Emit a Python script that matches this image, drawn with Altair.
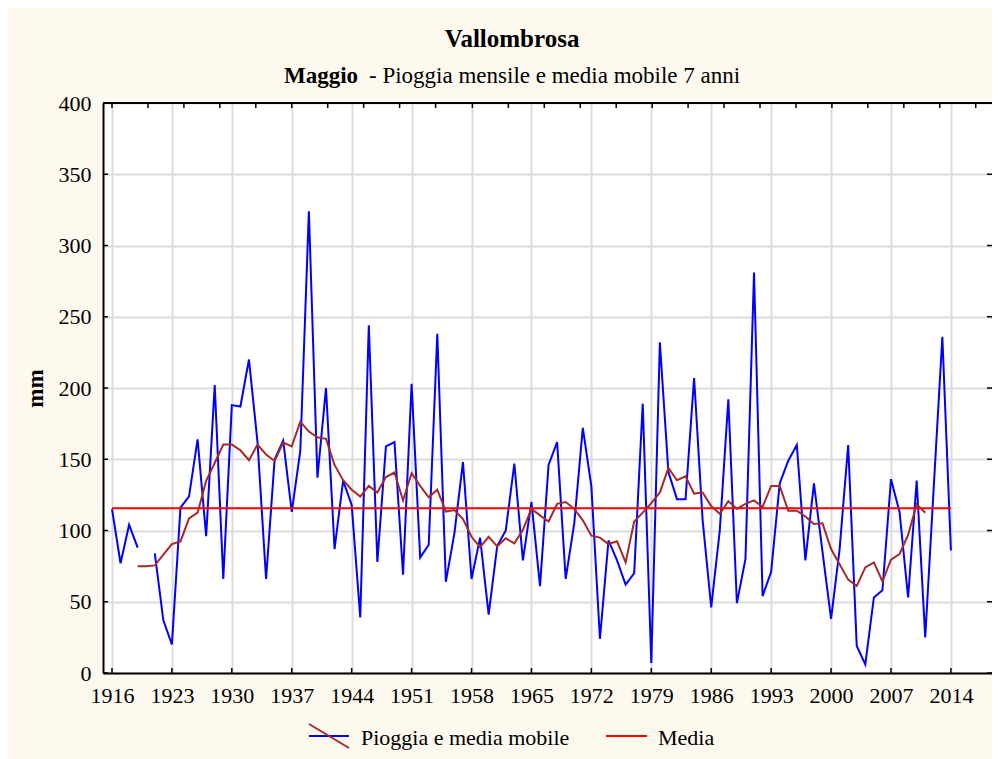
import altair as alt
import pandas as pd

# ---------------- data ----------------
YEARS = list(range(1916, 2015))
RAIN = [115, 77, 104, 88, None, 84, 37, 20, 116, 124,
        164, 96, 202, 66, 188, 187, 220, 162, 66, 150,
        163, 113, 156, 324, 137, 200, 87, 135, 118, 39,
        244, 78, 159, 162, 69, 203, 81, 90, 238, 64,
        98, 148, 66, 95, 41, 89, 100, 147, 79, 120,
        61, 146, 162, 66, 105, 172, 131, 24, 93, 79,
        62, 70, 189, 7, 232, 141, 122, 122, 207, 107,
        46, 100, 192, 49, 80, 281, 54, 71, 133, 149,
        160, 79, 133, 85, 38, 87, 160, 19, 6, 53,
        58, 136, 113, 53, 135, 25, 131, 236, 86]

MA_YEARS = list(range(1919, 2012))
MA = [75, 75, 75.5, 83, 90.5, 92.4, 108.5, 112.5, 134.8, 147.4,
      160.3, 160.3, 156.3, 149.3, 160.3, 153.3, 148.8, 161.7, 159, 176.4,
      169.4, 165.4, 164.3, 146, 135.3, 128.6, 123.8, 131.3, 126.7, 137.5,
      140.7, 121.1, 140.2, 131.3, 123.3, 128.6, 113.3, 114.4, 108, 95.6,
      88.3, 95.6, 88.9, 94.5, 91, 100.4, 115.2, 110.6, 106.3, 118.7,
      120, 115.2, 107.1, 96.4, 95, 90.5, 92.4, 77.6, 106.3, 112.5,
      119.2, 126.7, 143.9, 135.3, 138, 125.9, 126.7, 117.1, 111.7, 120.6,
      115.2, 118.7, 121.1, 116.5, 131.3, 131.3, 113.9, 113.9, 109.8, 104.5,
      105, 87, 76.3, 65.5, 61, 74.1, 77.6, 64.2, 79.5, 83.5,
      96.9, 118.4, 112.5]

MEAN = 115.7
MEAN_FROM = 1916
MEAN_TO = 2014

X_TICKS = [1916, 1923, 1930, 1937, 1944, 1951, 1958, 1965, 1972, 1979,
           1986, 1993, 2000, 2007, 2014]
Y_TICKS = [0, 50, 100, 150, 200, 250, 300, 350, 400]
TOP_TICKS = [1916, 1920.2, 1924.4, 1928.6, 1932.8, 1937.0, 1941.2, 1945.4,
             1949.6, 1953.8, 1958.1, 1962.3, 1966.5, 1970.7, 1974.9, 1979.1,
             1983.3, 1987.5, 1991.7, 1995.9, 2000.1, 2004.3, 2008.5, 2012.7,
             2016.9]

TITLE = "Vallombrosa"
SUB_BOLD = "Maggio"
SUB_REST = "- Pioggia mensile e media mobile 7 anni"
LEG1 = "Pioggia e media mobile"
LEG2 = "Media"

# ---------------- styling ----------------
FONT = "Liberation Serif"
W, H = 889, 570
BLUE = "#0000FF"
BROWN = "#A52A2A"
RED = "#FF0000"
GRID = "#DCDCDC"
BG = "#FEF9EE"

rain_df = pd.DataFrame({"year": YEARS, "mm": RAIN}).dropna()
rain_df["seg"] = (rain_df["year"] > 1920).astype(int)
ma_df = pd.DataFrame({"year": MA_YEARS, "mm": MA})
mean_df = pd.DataFrame({"year": [MEAN_FROM], "year2": [MEAN_TO], "mm": [MEAN]})
ytick_df = pd.DataFrame({"mm": Y_TICKS})
xtick_df = pd.DataFrame({"year": X_TICKS})
toptick_df = pd.DataFrame({"year": TOP_TICKS})

xscale = alt.Scale(domain=[1914.95, 2018.8], nice=False, zero=False)
yscale = alt.Scale(domain=[0, 400], nice=False, zero=True)

xaxis = alt.Axis(values=X_TICKS, format="d", grid=True, gridColor=GRID, gridWidth=2,
                 ticks=False, domain=True, domainColor="black", domainWidth=2,
                 labelFont=FONT, labelFontSize=22, labelColor="black", labelPadding=12,
                 labelFlush=False, labelOverlap=False, title=None)
yaxis = alt.Axis(values=Y_TICKS, grid=True, gridColor=GRID, gridWidth=2,
                 ticks=False, domain=True, domainColor="black", domainWidth=2,
                 labelFont=FONT, labelFontSize=22, labelColor="black", labelPadding=12,
                 title="mm", titleFont=FONT, titleFontSize=23, titleFontWeight="bold",
                 titleColor="black", titleAngle=270, titleX=-68, titleY=285,
                 titleAlign="center", titleBaseline="middle")

blue = alt.Chart(rain_df).mark_line(color=BLUE, strokeWidth=2).encode(
    x=alt.X("year:Q", scale=xscale, axis=xaxis),
    y=alt.Y("mm:Q", scale=yscale, axis=yaxis),
    detail="seg:N",
)
ma = alt.Chart(ma_df).mark_line(color=BROWN, strokeWidth=2).encode(
    x=alt.X("year:Q", title=None), y=alt.Y("mm:Q", title="mm"))
mean = alt.Chart(mean_df).mark_rule(color=RED, strokeWidth=2).encode(
    x=alt.X("year:Q", title=None), x2="year2:Q", y=alt.Y("mm:Q", title="mm"))

left_ticks = alt.Chart(ytick_df).mark_rule(color="black", strokeWidth=1.5).encode(
    y=alt.Y("mm:Q", title="mm"), x=alt.value(0), x2=alt.value(5))
right_ticks = alt.Chart(ytick_df).mark_rule(color="black", strokeWidth=1.5).encode(
    y=alt.Y("mm:Q", title="mm"), x=alt.value(W - 5), x2=alt.value(W))
bottom_ticks = alt.Chart(xtick_df).mark_rule(color="black", strokeWidth=1.5).encode(
    x=alt.X("year:Q", title=None), y=alt.value(H - 5), y2=alt.value(H))
top_ticks = alt.Chart(toptick_df).mark_rule(color="black", strokeWidth=1.5).encode(
    x=alt.X("year:Q", title=None), y=alt.value(0), y2=alt.value(5))
top_frame = alt.Chart(pd.DataFrame({"k": [0]})).mark_rule(color="black", strokeWidth=2).encode(
    x=alt.value(0), x2=alt.value(W), y=alt.value(0))


def text_layer(txt, x, y, size, weight="normal", align="left"):
    return alt.Chart(pd.DataFrame({"t": [txt]})).mark_text(
        font=FONT, fontSize=size, fontWeight=weight, align=align,
        baseline="alphabetic", color="black").encode(
        text="t:N", x=alt.value(x), y=alt.value(y))


title = text_layer(TITLE, 409, -56, 25, "bold", "center")
sub1 = text_layer(SUB_BOLD, 181, -20, 23, "bold")
sub2 = text_layer(SUB_REST, 266, -20, 23)

leg_df = pd.DataFrame({"k": [0]})
leg_blue = alt.Chart(leg_df).mark_rule(color=BLUE, strokeWidth=2).encode(
    x=alt.value(206), x2=alt.value(246), y=alt.value(633))
leg_brown = alt.Chart(leg_df).mark_rule(color=BROWN, strokeWidth=2).encode(
    x=alt.value(206), x2=alt.value(246), y=alt.value(621), y2=alt.value(645))
leg_red = alt.Chart(leg_df).mark_rule(color=RED, strokeWidth=2).encode(
    x=alt.value(503), x2=alt.value(544), y=alt.value(633))
leg_t1 = text_layer(LEG1, 258, 642, 22)
leg_t2 = text_layer(LEG2, 555, 642, 22)

chart = alt.layer(
    blue, ma, mean, left_ticks, right_ticks, bottom_ticks, top_ticks, top_frame,
    title, sub1, sub2, leg_blue, leg_brown, leg_red, leg_t1, leg_t2,
).properties(
    width=W, height=H, background=BG,
    autosize=alt.AutoSizeParams(type="none"),
    padding={"left": 95, "top": 95, "right": 0, "bottom": 86},
).configure_view(stroke=None, fill="white")

chart.save("out.html", embed_options={"renderer": "svg", "actions": False})
